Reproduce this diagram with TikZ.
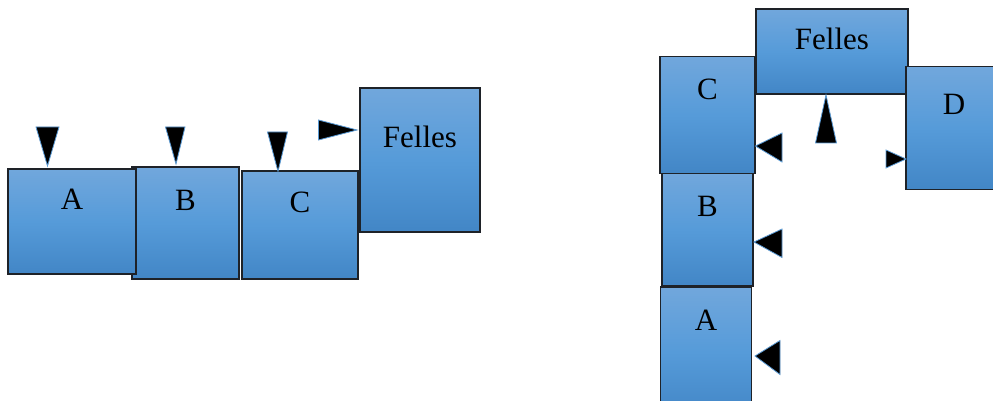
\documentclass[tikz,border=0pt]{standalone}
\usepackage{fontspec}
\setmainfont{Liberation Serif}
\begin{document}
\begin{tikzpicture}[x=1pt,y=-1pt,
  blk/.style={draw={rgb,255:red,30;green,34;blue,40}, line width=1.1pt,
    top color={rgb,255:red,113;green,167;blue,220},
    bottom color={rgb,255:red,66;green,134;blue,198},
    middle color={rgb,255:red,86;green,155;blue,217},
    inner sep=0pt, outer sep=0pt},
  lbl/.style={font=\fontsize{31}{36}\selectfont, inner sep=0pt},
  tip/.style={fill=black, draw={rgb,255:red,91;green,155;blue,213}, line width=0.8pt, line join=miter}]
\useasboundingbox (0,0) rectangle (993,401);
\clip (0,0) rectangle (993,401);

% ---- left group: A, B, C in a row, Felles raised to the right
\node[blk, minimum width=107pt, minimum height=112pt] (lB) at (185.5,223) {};
\node[blk, minimum width=128pt, minimum height=105pt] (lA) at (72,221.5) {};
\node[blk, minimum width=116pt, minimum height=108pt] (lC) at (300,225) {};
\node[blk, minimum width=120pt, minimum height=144pt] (lF) at (420,160) {};
\node[lbl] at ([yshift=-30pt]lA.north) {A};
\node[lbl] at ([yshift=-33pt]lB.north) {B};
\node[lbl] at ([yshift=-31pt]lC.north) {C};
\node[lbl] at ([yshift=-49pt]lF.north) {Felles};

% pointers onto the left boxes
\draw[tip] (36,127) -- (59,127) -- (47.5,166) -- cycle;
\draw[tip] (165.5,127) -- (185,127) -- (176,164) -- cycle;
\draw[tip] (267.5,132) -- (287.5,132) -- (278,171.5) -- cycle;
\draw[tip] (318.5,120) -- (318.5,140) -- (357,130) -- cycle;

% ---- right group: A, B, C stacked, Felles on top, D beside it
\node[blk, minimum width=91pt, minimum height=130pt] (rA) at (706,352) {};
\node[blk, minimum width=91pt, minimum height=113pt] (rB) at (707.5,229.5) {};
\node[blk, minimum width=95pt, minimum height=117pt] (rC) at (707.5,115) {};
\node[blk, minimum width=152pt, minimum height=85pt] (rF) at (832,51.5) {};
\node[blk, minimum width=96pt, minimum height=123pt] (rD) at (954,128) {};
\node[lbl] at ([yshift=-33pt]rA.north) {A};
\node[lbl] at ([yshift=-33pt]rB.north) {B};
\node[lbl] at ([yshift=-33pt]rC.north) {C};
\node[lbl] at ([yshift=-30pt]rF.north) {Felles};
\node[lbl] at ([yshift=-38pt]rD.north) {D};

% pointers onto the right boxes
\draw[tip] (815.5,143) -- (836.5,143) -- (826,95) -- cycle;
\draw[tip] (782,133) -- (782,162) -- (755.5,146) -- cycle;
\draw[tip] (886,150) -- (886,168) -- (906,159) -- cycle;
\draw[tip] (782,229) -- (782,257.5) -- (754,242) -- cycle;
\draw[tip] (780,340.5) -- (780,374.5) -- (755,356) -- cycle;
\end{tikzpicture}
\end{document}
